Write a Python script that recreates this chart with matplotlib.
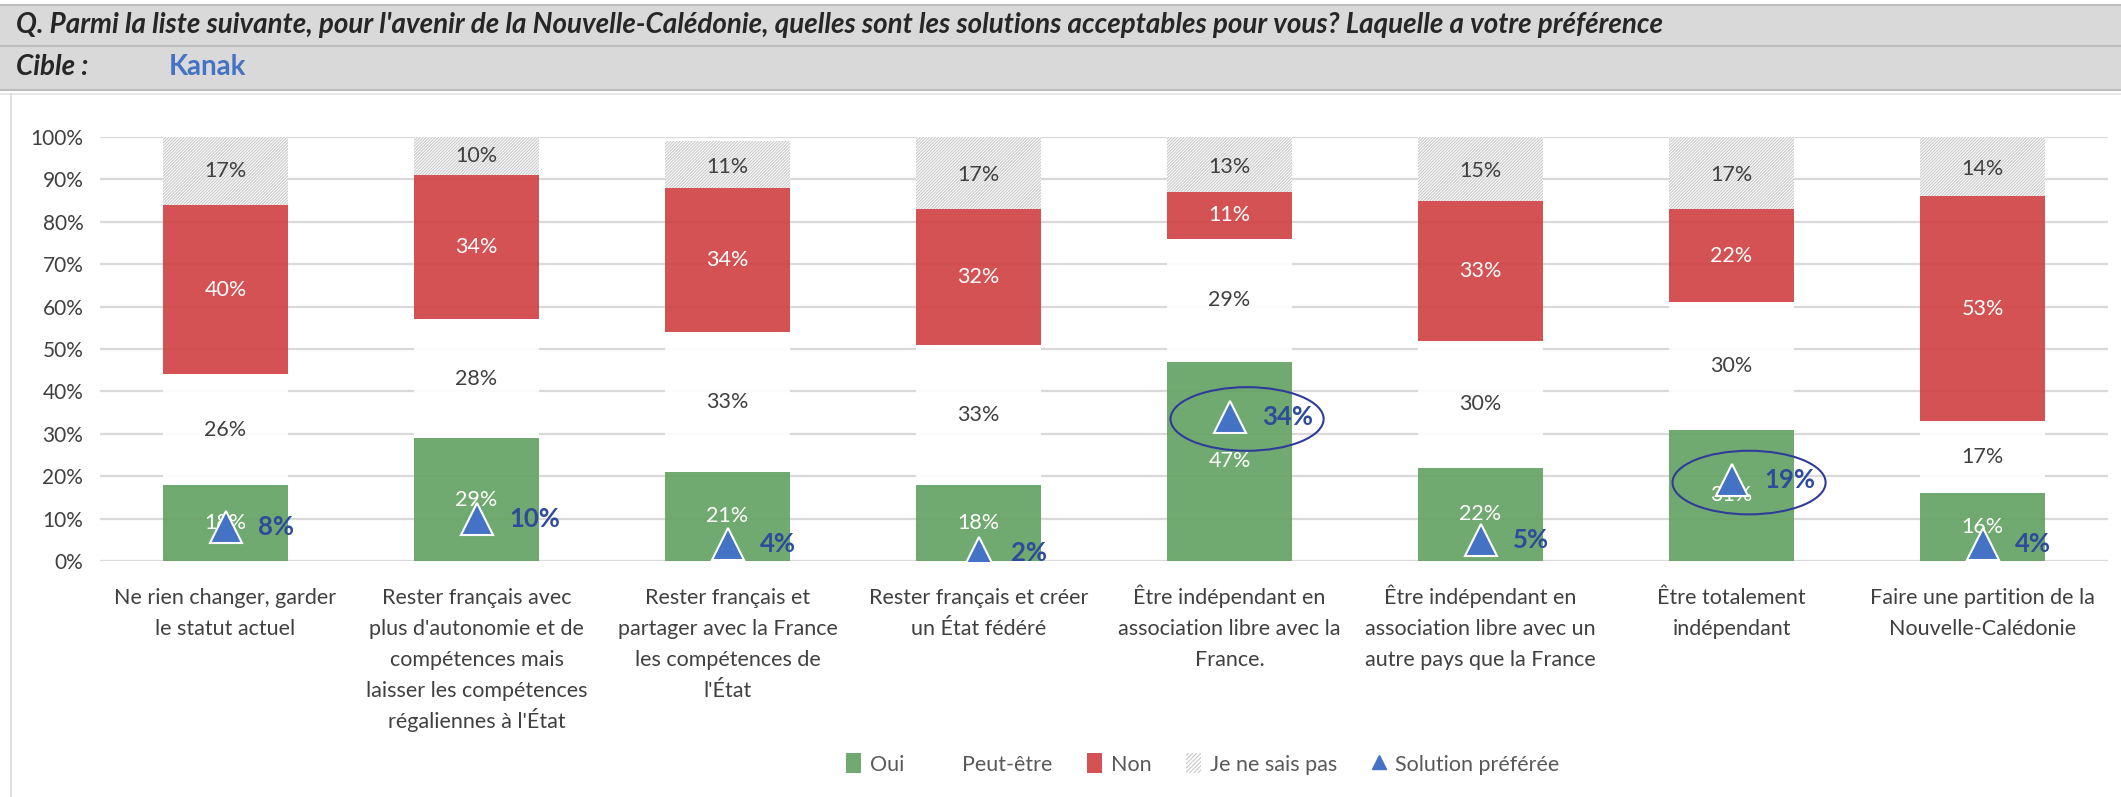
import numpy as np
import matplotlib.pyplot as plt
from matplotlib.patches import Patch, Rectangle, Ellipse
from matplotlib.lines import Line2D

plt.rcParams['font.family'] = ['Lato', 'DejaVu Sans']
plt.rcParams['hatch.linewidth'] = 0.8

# donnees (en %)
categories = [
    "Ne rien changer, garder\nle statut actuel",
    "Rester français avec\nplus d'autonomie et de\ncompétences mais\nlaisser les compétences\nrégaliennes à l'État",
    "Rester français et\npartager avec la France\nles compétences de\nl'État",
    "Rester français et créer\nun État fédéré",
    "Être indépendant en\nassociation libre avec la\nFrance.",
    "Être indépendant en\nassociation libre avec un\nautre pays que la France",
    "Être totalement\nindépendant",
    "Faire une partition de la\nNouvelle-Calédonie",
]
oui = [18, 29, 21, 18, 47, 22, 31, 16]
peut_etre = [26, 28, 33, 33, 29, 30, 30, 17]
non = [40, 34, 34, 32, 11, 33, 22, 53]
nsp = [17, 10, 11, 17, 13, 15, 17, 14]
prefere = [8, 10, 4, 2, 34, 5, 19, 4]
entoures = [4, 6]
yticks = list(range(0, 101, 10))

titre = ("Q. Parmi la liste suivante, pour l'avenir de la Nouvelle-Calédonie, "
         "quelles sont les solutions acceptables pour vous? Laquelle a votre préférence")

c_oui = '#62a160'
c_non = '#d03f40'
c_tri = '#4472c4'
c_lab = '#2e4b9c'
c_txt = '#404040'
c_hach = '#c9c9c9'

W, H = 2121, 797
fig = plt.figure(figsize=(W / 100, H / 100), dpi=100)

# bandeau gris en haut
fig.patches.append(Rectangle((-0.01, 1 - 46 / H), 1.02, 41 / H, transform=fig.transFigure,
                             facecolor='#d9d9d9', edgecolor='#bcbcbc', lw=1.5))
fig.patches.append(Rectangle((-0.01, 1 - 90 / H), 1.02, 44 / H, transform=fig.transFigure,
                             facecolor='#d9d9d9', edgecolor='#bcbcbc', lw=1.5))
fig.add_artist(Line2D([0, 1], [1 - 94 / H] * 2, transform=fig.transFigure,
                      color='#e3e3e3', lw=1.2))
fig.text(16 / W, 1 - 25 / H, titre, fontsize=20, fontweight='bold', fontstyle='italic',
         color='#262626', va='center', ha='left')
fig.text(16 / W, 1 - 67 / H, "Cible :", fontsize=20, fontweight='bold', fontstyle='italic',
         color='#262626', va='center', ha='left')
fig.text(169 / W, 1 - 67 / H, "Kanak", fontsize=20, fontweight='bold',
         color=c_tri, va='center', ha='left')
fig.add_artist(Line2D([11 / W, 11 / W], [0, 1 - 94 / H], transform=fig.transFigure,
                      color='#d9d9d9', lw=1.2))

ax = fig.add_axes([100 / W, 1 - 561 / H, 2008 / W, 424 / H])
x = np.arange(len(categories))
w = 0.5

b1 = np.array(oui)
b2 = b1 + np.array(peut_etre)
b3 = b2 + np.array(non)

ax.bar(x, oui, w, color=c_oui, alpha=0.9, zorder=2)
ax.bar(x, peut_etre, w, bottom=b1, color='white', alpha=0.92, zorder=2)
ax.bar(x, non, w, bottom=b2, color=c_non, alpha=0.9, zorder=2)
ax.bar(x, nsp, w, bottom=b3, facecolor='white', edgecolor=c_hach, hatch='/' * 11,
       lw=0, zorder=2)

fs = 15.5
for i in x:
    ax.text(i, oui[i] / 2, f'{oui[i]}%', ha='center', va='center', color='white',
            fontsize=fs, zorder=4)
    ax.text(i, b1[i] + peut_etre[i] / 2, f'{peut_etre[i]}%', ha='center', va='center',
            color=c_txt, fontsize=fs, zorder=4)
    ax.text(i, b2[i] + non[i] / 2, f'{non[i]}%', ha='center', va='center', color='white',
            fontsize=fs, zorder=4)
    ax.text(i, b3[i] + nsp[i] / 2 - 0.5, f'{nsp[i]}%', ha='center', va='center',
            color=c_txt, fontsize=fs, zorder=4)
    ax.text(i + 0.13, prefere[i], f'{prefere[i]}%', ha='left', va='center', color=c_lab,
            fontsize=18.5, fontweight='bold', zorder=6)

ax.plot(x, prefere, ls='none', marker='^', ms=23, color=c_tri, mec='white', mew=1.5, zorder=5)

for i in entoures:
    ax.add_patch(Ellipse((i + 0.07, prefere[i] - 0.5), 0.61, 15, fill=False,
                         edgecolor='#2f3c9c', lw=1.5, zorder=6))

# libelles des categories, ligne par ligne pour un interligne regulier
for i, cat in enumerate(categories):
    for k, ligne in enumerate(cat.split('\n')):
        ax.annotate(ligne, (i, 0), xytext=(0, -31 - k * 22.4), textcoords='offset points',
                    ha='center', va='baseline', fontsize=15.5, color=c_txt,
                    annotation_clip=False)

ax.set_xlim(-0.5, len(categories) - 0.5)
ax.set_ylim(0, 100)
ax.set_yticks(yticks, [f'{t}%' for t in yticks])
ax.set_xticks([])
ax.tick_params(axis='y', length=0, pad=12, labelsize=15, labelcolor=c_txt)
ax.grid(axis='y', color='#d9d9d9', lw=1.6, zorder=0)
ax.set_axisbelow(True)
for s in ax.spines.values():
    s.set_visible(False)

handles = [
    Patch(facecolor=c_oui, alpha=0.9),
    Patch(facecolor='white'),
    Patch(facecolor=c_non, alpha=0.9),
    Patch(facecolor='white', edgecolor=c_hach, hatch='/' * 8, lw=0),
    Line2D([], [], ls='none', marker='^', ms=10, color=c_tri),
]
labels = ['Oui', 'Peut-être', 'Non', 'Je ne sais pas', 'Solution préférée']
fig.legend(handles, labels, loc='center', bbox_to_anchor=(0.567, 1 - 764 / H), ncol=5,
           frameon=False, fontsize=15.5, labelcolor='#595959', handlelength=0.7,
           handleheight=1.0, handletextpad=0.4, columnspacing=1.6)

fig.savefig('out.png', dpi=100, facecolor='white')
